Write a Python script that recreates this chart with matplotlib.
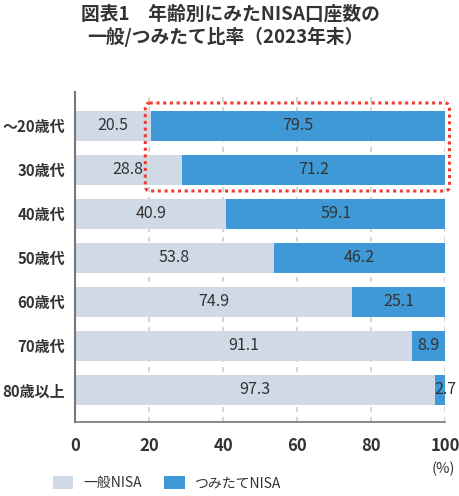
import matplotlib
matplotlib.use("Agg")
import matplotlib.pyplot as plt
from matplotlib.patches import FancyBboxPatch, Patch

plt.rcParams['font.family'] = ['Noto Sans CJK JP', 'DejaVu Sans']

categories = ["～20歳代", "30歳代", "40歳代", "50歳代", "60歳代", "70歳代", "80歳以上"]
general = [20.5, 28.8, 40.9, 53.8, 74.9, 91.1, 97.3]
tsumitate = [79.5, 71.2, 59.1, 46.2, 25.1, 8.9, 2.7]
series_names = ["一般NISA", "つみたてNISA"]
xticks = [0, 20, 40, 60, 80, 100]

c_gen = "#cfdae6"
c_tsu = "#3f99d6"
txt = "#333333"

fig = plt.figure(figsize=(4.6, 4.96), dpi=100)
ax = fig.add_axes([75/460, 1-422/496, 370/460, 330/496])

y = list(range(len(categories)))
h = 0.68
ax.barh(y, general, height=h, color=c_gen, zorder=2)
ax.barh(y, tsumitate, left=general, height=h, color=c_tsu, zorder=2)

vfs = 11.5
for i in y:
    g, t = general[i], tsumitate[i]
    ax.text(g/2, i, f"{g:.1f}", ha="center", va="center", fontsize=vfs, color=txt, zorder=3)
    if t < 5:
        ax.text(100, i, f"{t:.1f}", ha="center", va="center", fontsize=vfs, color=txt, zorder=3)
    else:
        ax.text(g + t/2, i, f"{t:.1f}", ha="center", va="center", fontsize=vfs, color=txt, zorder=3)

ax.set_xlim(0, 100)
ax.set_ylim(6.73, -0.77)
ax.set_yticks(y)
ax.set_yticklabels(categories, fontsize=10.8, fontweight="bold", color=txt)
ax.set_xticks(xticks)
ax.set_xticklabels([str(v) for v in xticks], fontsize=12, fontweight="bold", color=txt)
ax.tick_params(axis="both", length=0)
ax.tick_params(axis="x", pad=11)
ax.tick_params(axis="y", pad=7)

for v in xticks[1:]:
    ax.axvline(v, color="#d0d0d0", linestyle=(0, (3, 3)), linewidth=1.2, zorder=1)

for s in ["top", "right"]:
    ax.spines[s].set_visible(False)
ax.spines["left"].set_color("#777777")
ax.spines["left"].set_linewidth(1.5)
ax.spines["bottom"].set_color("#777777")
ax.spines["bottom"].set_linewidth(1.2)

# red dotted highlight box
box = FancyBboxPatch((19.0, -0.52), 82.2, 2.0,
                     boxstyle="round,pad=0,rounding_size=1.2",
                     mutation_aspect=0.12,
                     fill=False, edgecolor="#ee3b2e", linewidth=2.2,
                     linestyle=(0, (1, 1.2)), clip_on=False, zorder=4)
ax.add_patch(box)

fig.text(455/460, 1-469/496, "(%)", ha="right", va="center", fontsize=10.5, color=txt)

fig.text(230/460, 1-14/496, "図表1　年齢別にみたNISA口座数の", ha="center", va="center",
         fontsize=13.5, fontweight="bold", color=txt)
fig.text(225/460, 1-37/496, "一般/つみたて比率（2023年末）", ha="center", va="center",
         fontsize=13.5, fontweight="bold", color=txt)

handles = [Patch(facecolor=c_gen, edgecolor="none"), Patch(facecolor=c_tsu, edgecolor="none")]
fig.legend(handles, series_names, loc="center left", bbox_to_anchor=(53/460, 1-483/496),
           ncol=2, frameon=False, fontsize=10, handlelength=1.45, handleheight=1.05,
           columnspacing=1.6, handletextpad=0.75, borderpad=0, borderaxespad=0,
           labelcolor=txt)

fig.savefig("out.png", dpi=100)
